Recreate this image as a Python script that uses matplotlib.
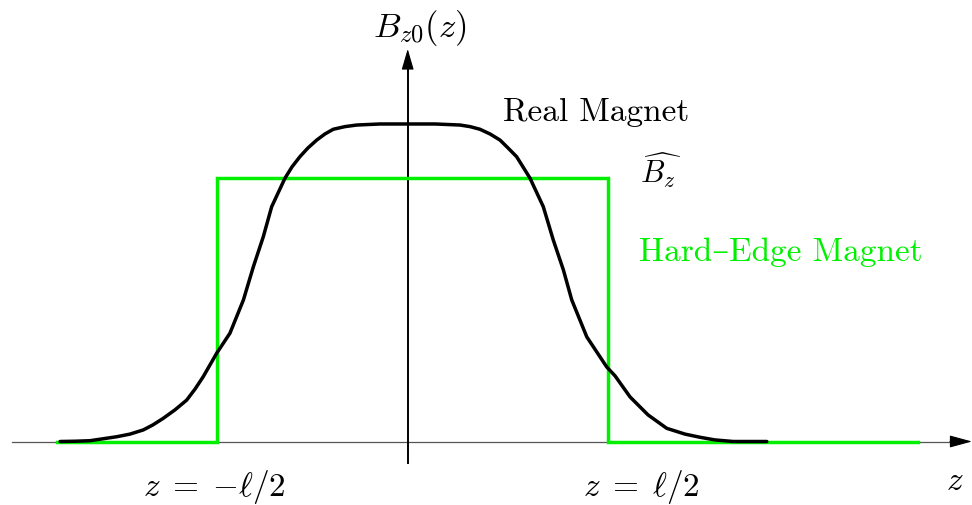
import matplotlib
matplotlib.use("Agg")
import matplotlib.pyplot as plt

plt.rcParams['mathtext.fontset'] = 'cm'

# ---- data (z in units of l/2, field normalised to hard-edge height) ----
z_real = [-1.779, -1.703, -1.626, -1.489, -1.421, -1.352, -1.303, -1.250, -1.190,
          -1.130, -1.087, -1.045, -0.976, -0.908, -0.839, -0.788, -0.737, -0.694,
          -0.626, -0.590, -0.549, -0.508, -0.463, -0.421, -0.378, -0.318, -0.258,
          -0.138, 0.0, 0.144, 0.272, 0.323, 0.374, 0.426, 0.477, 0.518, 0.562,
          0.595, 0.631, 0.699, 0.750, 0.802, 0.845, 0.922, 1.024, 1.067, 1.144,
          1.236, 1.332, 1.426, 1.503, 1.579, 1.673, 1.845]
b_real = [0.0, 0.001, 0.003, 0.018, 0.028, 0.044, 0.063, 0.088, 0.120,
          0.157, 0.199, 0.246, 0.335, 0.411, 0.537, 0.663, 0.777, 0.891,
          0.999, 1.042, 1.081, 1.114, 1.144, 1.167, 1.185, 1.195, 1.201,
          1.205, 1.205, 1.205, 1.201, 1.195, 1.185, 1.167, 1.144, 1.114, 1.081,
          1.042, 0.999, 0.891, 0.765, 0.651, 0.537, 0.397, 0.283, 0.249, 0.169,
          0.101, 0.050, 0.028, 0.016, 0.006, 0.0, 0.0]

z_hard = [-1.795, -0.974, -0.974, 1.029, 1.029, 2.621]
b_hard = [0.0, 0.0, 1.0, 1.0, 0.0, 0.0]

W, H = 972, 505
X0, Y0, SX, SY = 407.0, 441.5, 195.0, 263.5


def X(px):
    return (px - X0) / SX


def Y(py):
    return (Y0 - py) / SY


GREEN = '#00f000'

fig = plt.figure(figsize=(W / 100, H / 100), dpi=100)
ax = fig.add_axes([0, 0, 1, 1])
ax.set_xlim(X(0), X(W))
ax.set_ylim(Y(H), Y(0))
ax.axis('off')

# axes
ax.plot([X(12), X(958)], [0, 0], color='#555555', lw=0.9, zorder=1)
ax.annotate('', xy=(X(972), 0), xytext=(X(950), 0),
            arrowprops=dict(arrowstyle='-|>,head_length=14,head_width=3.8',
                            mutation_scale=1, color='black', lw=0.8,
                            shrinkA=0, shrinkB=0), zorder=4)
ax.plot([X(407.7), X(407.7)], [Y(463), Y(62)], color='black', lw=1.4, zorder=1)
ax.annotate('', xy=(X(407.7), Y(49)), xytext=(X(407.7), Y(72)),
            arrowprops=dict(arrowstyle='-|>,head_length=13,head_width=3.8',
                            mutation_scale=1, color='black', lw=0.8,
                            shrinkA=0, shrinkB=0), zorder=4)

# curves
ax.plot(z_hard, b_hard, color=GREEN, lw=2.5, zorder=2,
        solid_joinstyle='miter')
ax.plot(z_real, b_real, color='black', lw=2.5, zorder=3,
        solid_joinstyle='round', solid_capstyle='round')

# texts
ax.text(X(420), Y(28), r'$B_{z0}(z)$', fontsize=25, ha='center', va='center')
ax.text(X(596), Y(112), 'Real Magnet', fontsize=24, ha='center', va='center',
        family=['cmr10', 'DejaVu Serif'])
ax.text(X(661), Y(170), r'$\widehat{B_z}$', fontsize=22, ha='center', va='center')
ax.text(X(781), Y(252), 'Hard\u2013Edge Magnet', fontsize=24, ha='center',
        va='center', color=GREEN, family=['cmr10', 'DejaVu Serif'])
ax.text(X(214), Y(487), r'$z\;=\;{-}\ell/2$', fontsize=24, ha='center', va='center')
ax.text(X(641), Y(487), r'$z\;=\;\ell/2$', fontsize=24, ha='center', va='center')
ax.text(X(955), Y(481), r'$z$', fontsize=24, ha='center', va='center')

fig.savefig('out.png', dpi=100)
